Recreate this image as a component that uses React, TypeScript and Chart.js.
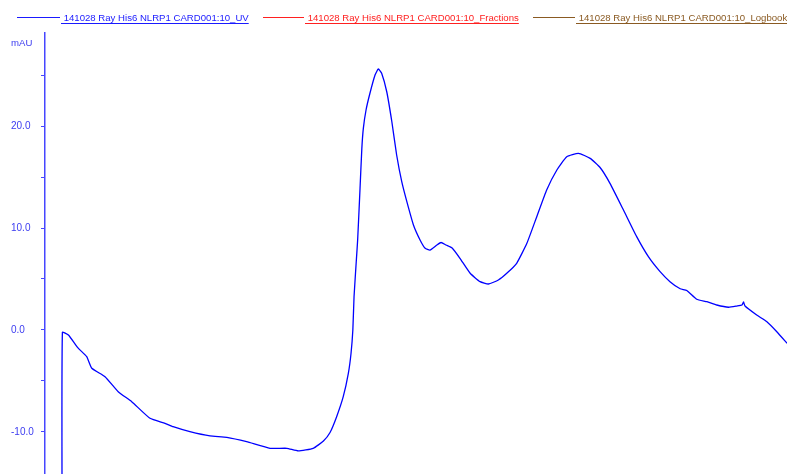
import React, { useEffect, useRef } from "react";
import { Chart, registerables } from "chart.js";

Chart.register(...registerables);

// elution volume (ml) and UV absorbance (mAU)
const volumeMl = [
  0.57, 0.58, 0.78, 1.10, 1.39, 1.56, 2.00, 2.44, 2.89, 3.50, 4.00, 4.27, 4.83, 5.50, 6.06, 6.72,
  7.50, 8.06, 8.44, 8.94, 9.28, 9.50, 9.72, 9.94, 10.11, 10.20, 10.26, 10.30, 10.37, 10.42, 10.50,
  10.56, 10.61, 10.70, 10.83, 11.00, 11.11, 11.22, 11.39, 11.56, 11.72, 11.89, 12.06, 12.28, 12.50,
  12.67, 12.83, 13.06, 13.20, 13.37, 13.57, 13.83, 14.17, 14.50, 14.78, 15.11, 15.39, 15.72, 16.06,
  16.39, 16.72, 17.06, 17.39, 17.78, 18.17, 18.50, 18.83, 19.28, 19.72, 20.11, 20.50, 20.83, 21.17,
  21.39, 21.72, 22.06, 22.39, 22.78, 23.06, 23.23, 23.28, 23.33, 23.72, 24.06, 24.39, 24.73,
];
const uvMAU = [
  -20, -0.23, -0.49, -1.76, -2.62, -3.75, -4.58, -6.05, -7.03, -8.66, -9.15, -9.48, -9.97, -10.39,
  -10.52, -10.95, -11.6, -11.6, -11.86, -11.6, -10.88, -10.05, -8.5, -6.54, -4.25, -2.28, 0, 3.26,
  6.54, 8.82, 13.89, 17.81, 19.77, 21.57, 23.21, 25.0, 25.59, 25.17, 23.36, 20.42, 17.16, 14.54,
  12.58, 10.29, 8.82, 8.01, 7.84, 8.33, 8.58, 8.33, 8.04, 7.03, 5.56, 4.74, 4.51, 4.9, 5.56, 6.54,
  8.5, 11.11, 13.73, 15.69, 16.99, 17.32, 16.83, 15.93, 14.38, 11.76, 9.15, 7.19, 5.72, 4.74, 4.04,
  3.87, 3.01, 2.77, 2.45, 2.23, 2.35, 2.45, 2.75, 2.35, 1.47, 0.81, -0.17, -1.3,
];

const legendLabels = [
  "141028 Ray His6 NLRP1 CARD001:10_UV",
  "141028 Ray His6 NLRP1 CARD001:10_Fractions",
  "141028 Ray His6 NLRP1 CARD001:10_Logbook",
];
const legendColors = ["#1a1aff", "#ff2020", "#8a5a22"];
const axisTitle = "mAU";

const X_MIN = 0;
const X_MAX = 24.73;
const Y_MIN = -14.12;
const Y_MAX = 29.12;

const FONT = "9.6px 'Liberation Sans', Arial, sans-serif";

const overlayPlugin = {
  id: "overlay",
  afterDraw(chart: any) {
    const ctx = chart.ctx as CanvasRenderingContext2D;
    ctx.save();
    ctx.font = FONT;
    ctx.textBaseline = "alphabetic";
    // axis title
    ctx.fillStyle = "#3c3cf0";
    ctx.textAlign = "left";
    ctx.fillText(axisTitle, 11, 46);
    // legend
    const starts = [17, 263, 533];
    const lineLen = [43, 41, 42];
    legendLabels.forEach((label, i) => {
      const col = legendColors[i];
      const x0 = starts[i];
      const x1 = x0 + lineLen[i];
      ctx.strokeStyle = col;
      ctx.lineWidth = 1;
      ctx.beginPath();
      ctx.moveTo(x0, 17.5);
      ctx.lineTo(x1, 17.5);
      ctx.stroke();
      const text = " " + label;
      ctx.fillStyle = col;
      ctx.fillText(text, x1 + 1, 21);
      const w = ctx.measureText(text).width;
      ctx.beginPath();
      ctx.moveTo(x1 + 1, 23.5);
      ctx.lineTo(x1 + 1 + w, 23.5);
      ctx.stroke();
    });
    ctx.restore();
  },
};

export default function App() {
  const ref = useRef<HTMLCanvasElement | null>(null);
  useEffect(() => {
    if (!ref.current) return;
    const points = volumeMl.map((x, i) => ({ x, y: uvMAU[i] }));
    const chart = new Chart(ref.current, {
      type: "line",
      data: {
        datasets: [
          {
            label: legendLabels[0],
            data: points,
            borderColor: "#0000ff",
            borderWidth: 1.3,
            pointRadius: 0,
            tension: 0.15,
            fill: false,
          },
        ],
      },
      options: {
        animation: false,
        responsive: false,
        maintainAspectRatio: false,
        events: [],
        layout: { padding: { left: 11, top: 33, right: 0, bottom: 0 } },
        plugins: { legend: { display: false }, tooltip: { enabled: false } },
        scales: {
          x: { type: "linear", min: X_MIN, max: X_MAX, display: false },
          y: {
            type: "linear",
            min: Y_MIN,
            max: Y_MAX,
            border: { display: true, color: "#4646ff", width: 1.5 },
            grid: {
              drawOnChartArea: false,
              drawTicks: true,
              tickLength: 4,
              color: "#4646ff",
            },
            ticks: {
              stepSize: 5,
              includeBounds: false,
              crossAlign: "far",
              padding: 2,
              color: "#3c3cf0",
              font: { family: "'Liberation Sans', Arial, sans-serif", size: 10 },
              callback: (v: any) => (Math.abs(v % 10) < 1e-9 ? Number(v).toFixed(1) : ""),
            },
            afterFit: (scale: any) => {
              scale.width = 34;
              scale.paddingTop = 0;
              scale.paddingBottom = 0;
            },
          },
        },
      },
      plugins: [overlayPlugin],
    });
    return () => chart.destroy();
  }, []);
  return (
    <div style={{ position: "fixed", left: 0, top: 0, width: 787, height: 474, background: "#fff" }}>
      <canvas ref={ref} width={787} height={474} style={{ display: "block" }} />
    </div>
  );
}
